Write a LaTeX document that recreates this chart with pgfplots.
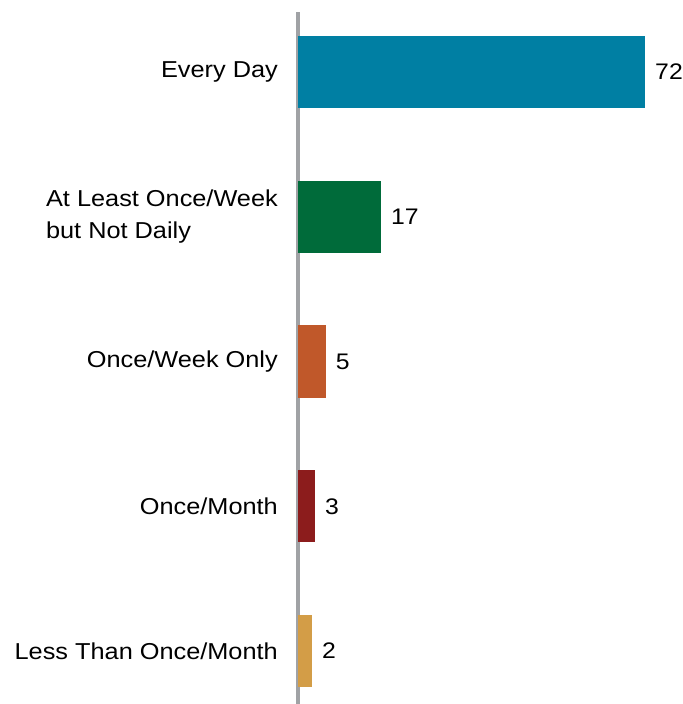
\documentclass[border=0pt]{standalone}
\usepackage{pgfplots}
\pgfplotsset{compat=1.18}
\usepackage{fontspec}
\setmainfont{Liberation Sans}[FakeStretch=1.1]
\usetikzlibrary{calc}
\definecolor{cA}{HTML}{007FA3}
\definecolor{cB}{HTML}{006B3A}
\definecolor{cC}{HTML}{C0582A}
\definecolor{cD}{HTML}{8C1C1C}
\definecolor{cE}{HTML}{D39D47}
\definecolor{axgray}{HTML}{A0A2A5}
\begin{document}
\begin{tikzpicture}
\begin{axis}[
  scale only axis,
  width=361.5bp, height=692bp,
  xmin=0, xmax=75,
  ymin=-0.414, ymax=4.366,
  y dir=reverse,
  hide x axis,
  axis y line*=left,
  axis line style={draw=axgray, line width=4bp, -},
  every outer y axis line/.append style={draw=axgray, line width=4bp, -},
  ytick={0,1,2,3,4},
  yticklabels={Every Day, {At Least Once/Week\\but Not Daily}, Once/Week Only, Once/Month, Less Than Once/Month},
  major tick length=0pt,
  yticklabel style={align=left, font=\fontsize{23.1}{31.5}\selectfont, inner sep=0pt, xshift=-20bp},
  xbar, bar width=0.5,
  bar shift=0pt,
  point meta=explicit symbolic,
  nodes near coords,
  nodes near coords align={horizontal},
  every node near coord/.append style={font=\fontsize{22.6}{31.5}\selectfont, black, anchor=west, inner xsep=10bp, inner ysep=0pt},
  clip=false,
]
\addplot[fill=cA, draw=none] coordinates {(72,0) [72]};
\addplot[fill=cB, draw=none] coordinates {(17.2,1) [17]};
\addplot[fill=cC, draw=none] coordinates {(5.75,2) [5]};
\addplot[fill=cD, draw=none] coordinates {(3.5,3) [3]};
\addplot[fill=cE, draw=none] coordinates {(2.9,4) [2]};
\coordinate (bl) at (axis description cs:0,0);
\end{axis}
\pgfresetboundingbox
\path[use as bounding box] ($(bl)+(-298bp,0)$) rectangle ($(bl)+(385bp,704bp)$);
\end{tikzpicture}
\end{document}
